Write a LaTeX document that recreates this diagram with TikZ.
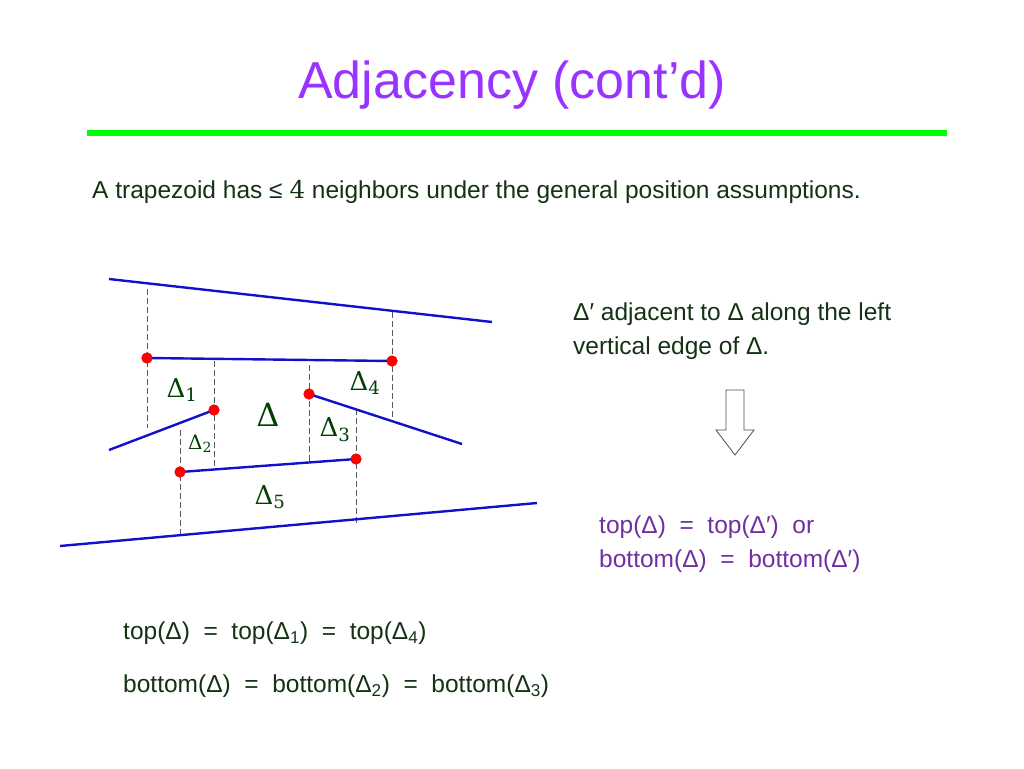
\documentclass[tikz,border=0pt]{standalone}
\usepackage{fontspec}
\setmainfont{Liberation Sans}
\newfontfamily\lab{DejaVu Serif}
\definecolor{ttl}{RGB}{153,51,255}
\definecolor{gr}{RGB}{0,255,0}
\definecolor{dk}{RGB}{20,50,20}
\definecolor{lg}{RGB}{0,64,0}
\definecolor{pu}{RGB}{112,48,160}
\definecolor{seg}{RGB}{17,17,204}
\newcommand{\eqs}{\ \ =\ \ }
\begin{document}
\begin{tikzpicture}[x=1pt,y=-1pt,
  segl/.style={draw=seg,line width=2.4pt},
  vdash/.style={draw=gray!70!black,dash pattern=on 6pt off 3pt,line width=1pt},
  dot/.style={circle,fill=red,inner sep=0pt,minimum size=11pt},
  lbl/.style={text=lg,font=\lab\fontsize{26}{26}\selectfont,inner sep=0pt},
  txt/.style={anchor=west,inner sep=0pt,font=\fontsize{24.5}{28}\selectfont}]
\useasboundingbox (0,0) rectangle (1024,768);
\node[text=ttl,font=\fontsize{52}{60}\selectfont] (title) at (512,85) {Adjacency (cont’d)};
\draw[gr,line width=6pt] (87,133) -- (947,133);
\node[txt,text=dk] (intro) at (92,192) {A trapezoid has ≤ {\lab 4} neighbors under the general position assumptions.};
% dashed
\draw[vdash] (147,289) -- (147,428);
\draw[vdash] (392,312) -- (392,419);
\draw[vdash] (214,361) -- (214,470);
\draw[vdash] (309,365) -- (309,463);
\draw[vdash] (180,430) -- (180,535);
\draw[vdash] (356,409) -- (356,525);
% segments
\coordinate (t1) at (109,279); \coordinate (t2) at (492,322);
\coordinate (b1) at (60,546); \coordinate (b2) at (537,503);
\coordinate (l1) at (109,450); \coordinate (r2) at (462,444);
\node[dot] (A) at (147,358) {}; \node[dot] (B) at (392,361) {};
\node[dot] (C) at (214,410) {}; \node[dot] (D) at (309,394) {};
\node[dot] (E) at (180,472) {}; \node[dot] (F) at (356,459) {};
\draw[segl] (t1) -- (t2);
\draw[segl] (b1) -- (b2);
\draw[segl] (A.center) -- (B.center);
\draw[segl] (l1) -- (C.center);
\draw[segl] (D.center) -- (r2);
\draw[segl] (E.center) -- (F.center);
\node[dot] at (147,358) {}; \node[dot] at (392,361) {};
\node[dot] at (214,410) {}; \node[dot] at (309,394) {};
\node[dot] at (180,472) {}; \node[dot] at (356,459) {};
\node[lbl] (d1) at (182,390) {Δ\textsubscript{1}};
\node[lbl] (d4) at (365,383) {Δ\textsubscript{4}};
\node[lbl,font=\lab\fontsize{32}{32}\selectfont] (d) at (268,415) {Δ};
\node[lbl] (d3) at (335,430) {Δ\textsubscript{3}};
\node[lbl,font=\lab\fontsize{20}{20}\selectfont] (d2) at (200,444) {Δ\textsubscript{2}};
\node[lbl] (d5) at (270,497) {Δ\textsubscript{5}};
% right text
\node[txt,text=dk] (r1) at (573,314) {Δ′ adjacent to Δ along the left};
\node[txt,text=dk] (r2t) at (573,348) {vertical edge of Δ.};
\draw[gray!60!black,line width=0.8pt] (726,390) -- (744,390) -- (744,430) -- (754,430) -- (735,455) -- (716,430) -- (726,430) -- cycle;
\node[txt,text=pu] (p1) at (599,527) {top(Δ)\eqs top(Δ′)~~or};
\node[txt,text=pu] (p2) at (599,561) {bottom(Δ)\eqs bottom(Δ′)};
\node[txt,text=dk] (q1) at (123,633) {top(Δ)\eqs top(Δ\textsubscript{1})\eqs top(Δ\textsubscript{4})};
\node[txt,text=dk] (q2) at (123,686) {bottom(Δ)\eqs bottom(Δ\textsubscript{2})\eqs bottom(Δ\textsubscript{3})};
\end{tikzpicture}
\end{document}
